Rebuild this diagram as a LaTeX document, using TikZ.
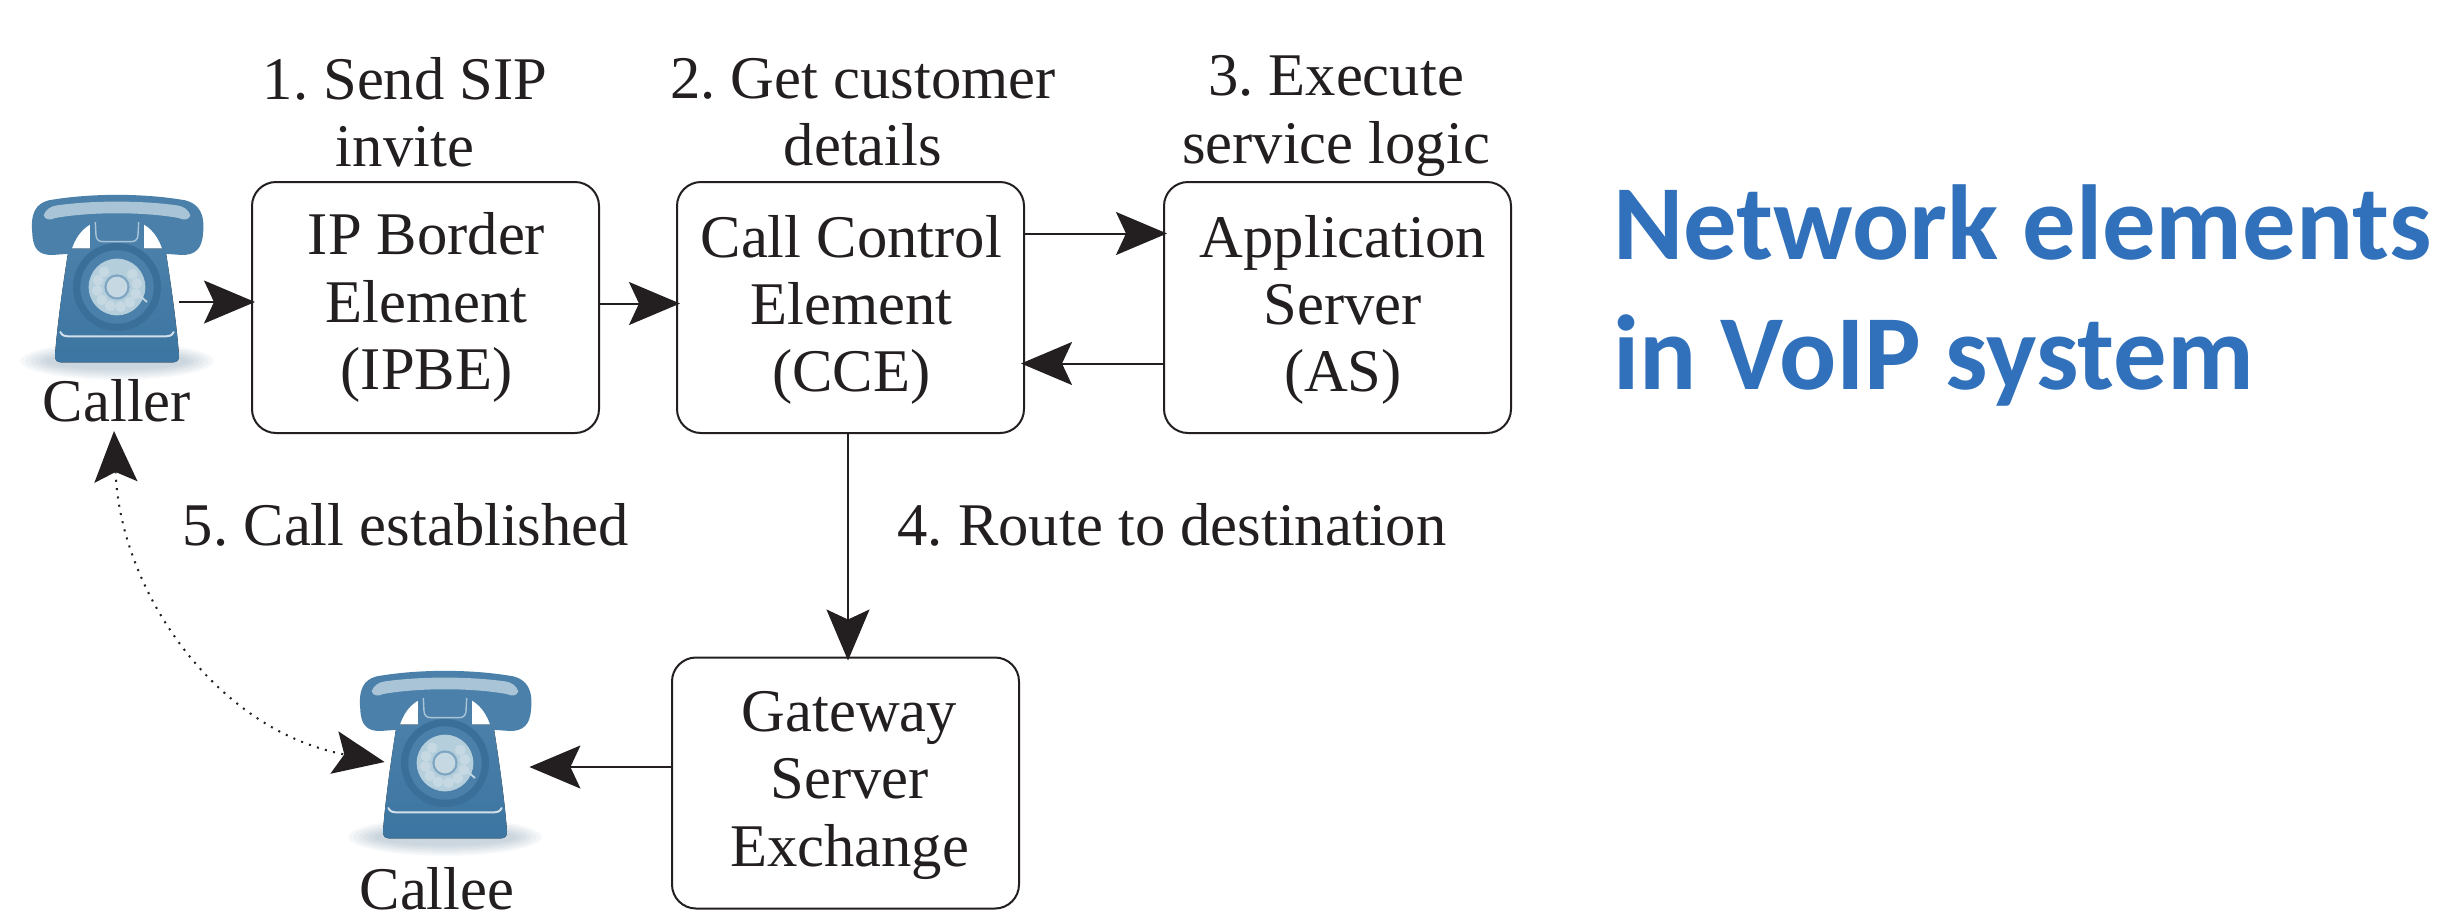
\documentclass[tikz,border=0pt]{standalone}
\usepackage{fontspec}
\setmainfont{Liberation Serif}
\setsansfont{Carlito}
\usetikzlibrary{arrows.meta,calc}
\definecolor{ink}{HTML}{231F20}
\definecolor{phoneblue}{HTML}{4A80AA}
\definecolor{phonedark}{HTML}{3C75A1}
\definecolor{phonelight}{HTML}{A9C4D6}
\definecolor{diallight}{HTML}{B4CEDC}
\definecolor{dialhole}{HTML}{C6D9E3}
\definecolor{titleblue}{HTML}{3170BA}
\tikzset{
  every node/.style={text=ink},
  serif/.style={font=\frenchspacing\fontsize{30.3}{33.7}\selectfont,align=center,inner sep=0pt},
  box/.style={draw=ink,line width=1pt,rounded corners=12pt,minimum width=173.5pt,minimum height=125.5pt,inner sep=0pt,fill=white},
  txt/.style={serif},
  ghost/.style={inner sep=0pt,minimum height=60pt},
  arr/.style={draw=ink,line width=1pt,shorten >=-2pt,-{Stealth[length=25.5pt,width=21.5pt,inset=5pt]}},
  dot/.style={draw=ink,line width=1pt,dash pattern=on 1pt off 3.2pt,
    {Stealth[length=25.5pt,width=21.5pt,inset=5pt]}-{Stealth[length=25.5pt,width=21.5pt,inset=5pt]}},
  titletext/.style={font=\sffamily\bfseries\fontsize{53.3}{60}\selectfont,text=titleblue,anchor=base west,inner sep=0pt},
  pics/phone/.style={code={
    \begin{scope}[x=.16667pt,y=-.16667pt,shift={(-350,-350)}]
      % soft shadow
      \foreach \rx/\ry in {290/56,275/50,260/44,245/38,230/32,215/26}
        \fill[phonedark!60!gray,opacity=.06] (350,572) ellipse[x radius=\rx,y radius=\ry];
      % body
      \fill[top color=phoneblue,bottom color=phonedark]
        (205,235) -- (495,235) .. controls (510,330) and (528,450) .. (536,555)
        .. controls (537,568) and (530,576) .. (518,576) -- (182,576)
        .. controls (170,576) and (163,568) .. (164,555)
        .. controls (172,450) and (190,330) .. (205,235) -- cycle;
      % neck
      \fill[phoneblue] (270,130) rectangle (430,250);
      % handset
      \fill[phoneblue]
        (96,190) .. controls (90,130) and (105,100) .. (145,90)
        .. controls (270,68) and (430,68) .. (555,90)
        .. controls (595,100) and (615,130) .. (608,190)
        .. controls (605,235) and (585,254) .. (545,254)
        -- (490,250) .. controls (478,205) and (455,170) .. (415,155)
        -- (285,155) .. controls (245,170) and (222,205) .. (210,250)
        -- (155,254) .. controls (115,254) and (98,235) .. (96,190) -- cycle;
      % handset highlight
      \fill[phonelight]
        (130,135) .. controls (135,118) and (150,108) .. (170,105)
        .. controls (280,90) and (420,90) .. (530,105)
        .. controls (550,108) and (565,118) .. (570,135)
        .. controls (565,150) and (550,150) .. (535,143)
        .. controls (430,124) and (270,124) .. (165,143)
        .. controls (150,150) and (135,150) .. (130,135) -- cycle;
      % cradle outline
      \draw[phonelight,line width=.7pt] (285,155) -- (287,195) .. controls (288,208) and (296,214) .. (308,214)
        -- (392,214) .. controls (404,214) and (412,208) .. (413,195) -- (415,155);
      % dial
      \fill[phonedark!95!black] (350,350) circle[radius=132];
      \fill[phoneblue] (350,350) circle[radius=110];
      \fill[diallight] (350,350) circle[radius=85];
      \foreach \a in {-40,-10,...,230}
        \fill[dialhole] (350,350) ++(\a:60) circle[radius=16];
      \fill[phonedark!45!diallight] (350,350) circle[radius=38];
      \fill[dialhole] (350,350) circle[radius=31];
      \draw[dialhole,line width=.9pt] (405,365) -- (440,395);
      % base line
      \draw[white!75!phoneblue,line width=1pt,line cap=round]
        (180,485) .. controls (185,497) and (195,498) .. (210,498) -- (490,498)
        .. controls (505,498) and (515,497) .. (520,485);
    \end{scope}
  }}
}
\begin{document}
\begin{tikzpicture}[x=.5pt,y=-.5pt]
  \useasboundingbox (0,0) rectangle (2440,912);
  % phones
  \pic at (117,287) {phone};
  \pic at (445,763) {phone};
  \node[ghost,minimum width=62pt] (caller) at (117,302) {};
  \node[ghost,minimum width=74pt] (callee) at (459,762) {};
  % boxes
  \node[box,label={[txt,xshift=.5pt]center:{IP Border\\Element\\(IPBE)}}] (ipbe) at (425.5,307.5) {};
  \node[box,label={[txt,xshift=.4pt,yshift=-1.2pt]center:{Call Control\\Element\\(CCE)}}] (cce) at (850.5,307.5) {};
  \node[box,label={[txt,xshift=2.7pt,yshift=-1.2pt]center:{Application\\Server\\(AS)}}] (as) at (1337.5,307.5) {};
  \node[box,label={[txt,xshift=2pt,yshift=-1.2pt]center:{Gateway\\Server\\Exchange}}] (gse) at (845.5,783) {};
  % labels
  \node[txt] (l1) at (405,112) {1. Send SIP\\invite};
  \node[txt] (l2) at (863,112) {2. Get customer\\details};
  \node[txt] (l3) at (1336,116) {3. Execute\\service logic};
  \node[txt] (l4) at (1172,525) {4. Route to destination};
  \node[txt] (l5) at (406,525) {5. Call established};
  \node[txt] (lcaller) at (117,401) {Caller};
  \node[txt] (lcallee) at (437,889) {Callee};
  % title
  \node[titletext] (t1) at (1613,259) {Network elements};
  \node[titletext] (t2) at (1613,389) {in VoIP system};
  % connectors
  \draw[arr] (caller.east) -- (caller.east -| ipbe.west);
  \draw[arr] ([yshift=2pt]ipbe.east) -- ([yshift=2pt]cce.west);
  \draw[arr] ([yshift=37pt]cce.east) -- ([yshift=37pt]as.west);
  \draw[arr] ([yshift=-28pt]as.west) -- ([yshift=-28pt]cce.east);
  \draw[arr] ([xshift=-1.25pt]cce.south) -- ([xshift=1.25pt]gse.north);
  \path ([yshift=-2.5pt]callee.east) coordinate (calleein);
  \draw[arr] (calleein -| gse.west) -- (calleein);
  \coordinate (dotstart) at (114,431);
  \draw[dot] (dotstart) .. controls (120,590) and (215,730) .. ([yshift=0pt]callee.west);
\end{tikzpicture}
\end{document}
